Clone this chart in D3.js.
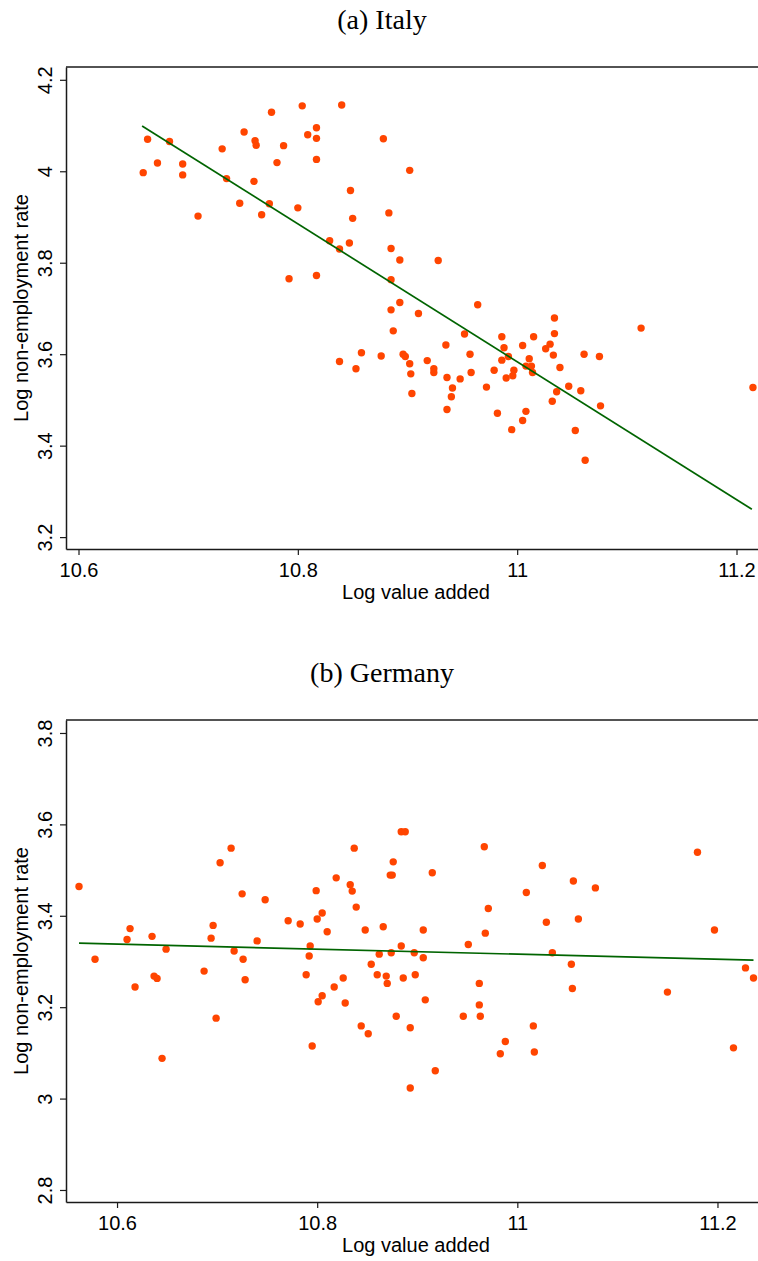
<!DOCTYPE html>
<html>
<head>
<meta charset="utf-8">
<script src="https://cdn.jsdelivr.net/npm/d3@7/dist/d3.min.js"></script>
<style>
  html, body { margin: 0; padding: 0; background: #fff; }
  svg { display: block; }
</style>
</head>
<body>
<svg id="chart" width="758" height="1261"></svg>
<script>
// ---------- DATA ----------
const italyTitle = "(a) Italy";
const germanyTitle = "(b) Germany";
const xAxisTitle = "Log value added";
const yAxisTitle = "Log non-employment rate";

const italyX = [10.663,10.683,10.672,10.695,10.659,10.695,10.709,10.731,10.735,10.751,
10.761,10.762,10.760,10.747,10.776,10.787,10.781,10.774,10.767,10.800,
10.804,10.809,10.817,10.817,10.817,10.840,10.829,10.838,10.792,10.817,
10.848,10.850,10.902,10.883,10.847,10.885,10.893,10.928,10.885,10.893,
10.885,10.910,10.887,10.964,10.952,10.935,10.957,10.838,10.858,10.853,
10.876,10.896,10.898,10.902,10.903,10.904,10.918,10.924,10.924,10.936,
10.941,10.940,10.948,10.958,10.972,10.979,10.936,10.982,10.995,10.986,
10.988,10.986,10.992,10.990,10.997,10.996,11.005,11.015,11.011,11.008,
11.013,11.014,11.008,11.005,11.034,11.034,11.030,11.026,11.033,11.039,
11.036,11.032,11.047,11.058,11.061,11.075,11.076,11.053,11.062,11.113,
11.215,10.878];
const italyY = [4.070,4.065,4.018,4.016,3.997,3.992,3.902,4.049,3.984,4.086,
4.067,4.057,3.978,3.930,4.129,4.056,4.019,3.929,3.905,3.920,
4.143,4.080,4.095,4.072,4.026,4.145,3.848,3.830,3.765,3.772,
3.958,3.897,4.002,3.909,3.843,3.831,3.806,3.805,3.763,3.713,
3.697,3.689,3.651,3.708,3.644,3.620,3.600,3.584,3.603,3.568,
3.596,3.600,3.595,3.579,3.557,3.514,3.586,3.568,3.560,3.549,
3.526,3.507,3.546,3.560,3.528,3.565,3.479,3.471,3.435,3.638,
3.614,3.587,3.595,3.548,3.565,3.553,3.619,3.638,3.590,3.574,
3.574,3.560,3.475,3.455,3.679,3.645,3.622,3.612,3.598,3.571,
3.518,3.497,3.530,3.520,3.600,3.595,3.487,3.433,3.368,3.657,
3.527,4.071];
const italyFitX = [10.658, 11.214];
const italyFitY = [4.099, 3.261];
const italyXTicks = [10.6, 10.8, 11, 11.2];
const italyYTicks = [3.2, 3.4, 3.6, 3.8, 4, 4.2];
const italyXDomain = [10.5886, 11.2196];
const italyYDomain = [3.174, 4.228];

const germanyX = [10.562,10.578,10.610,10.613,10.618,10.635,10.649,10.637,10.640,10.645,
10.687,10.694,10.696,10.703,10.714,10.699,10.717,10.726,10.728,10.725,
10.740,10.748,10.771,10.783,10.789,10.799,10.800,10.805,10.810,10.819,
10.833,10.835,10.837,10.839,10.793,10.792,10.805,10.801,10.795,10.817,
10.826,10.828,10.844,10.851,10.848,10.866,10.862,10.854,10.860,10.869,
10.870,10.874,10.884,10.886,10.897,10.906,10.898,10.906,10.879,10.893,
10.908,10.893,10.918,10.884,10.888,10.876,10.873,10.875,10.915,10.967,
11.009,10.971,10.968,10.951,10.962,10.962,10.963,10.946,10.988,10.983,
11.025,11.056,11.078,11.029,11.061,11.035,11.054,11.055,11.016,11.017,
11.150,11.180,11.197,11.228,11.236,11.216];
const germanyY = [3.464,3.305,3.348,3.372,3.244,3.355,3.327,3.268,3.263,3.088,
3.279,3.351,3.379,3.516,3.548,3.176,3.323,3.305,3.260,3.448,
3.345,3.435,3.389,3.382,3.271,3.455,3.393,3.406,3.365,3.483,
3.468,3.454,3.548,3.419,3.334,3.312,3.225,3.212,3.115,3.244,
3.264,3.209,3.159,3.142,3.369,3.376,3.316,3.294,3.271,3.268,
3.252,3.319,3.334,3.264,3.319,3.308,3.271,3.369,3.180,3.155,
3.216,3.023,3.061,3.584,3.584,3.518,3.489,3.489,3.494,3.551,
3.451,3.416,3.362,3.337,3.252,3.205,3.180,3.180,3.125,3.098,
3.510,3.476,3.461,3.386,3.393,3.319,3.294,3.241,3.159,3.102,
3.233,3.539,3.369,3.286,3.264,3.111];
const germanyFitX = [10.562, 11.236];
const germanyFitY = [3.340, 3.303];
const germanyXTicks = [10.6, 10.8, 11, 11.2];
const germanyYTicks = [2.8, 3, 3.2, 3.4, 3.6, 3.8];
const germanyXDomain = [10.549, 11.2405];
const germanyYDomain = [2.7737, 3.8284];

// ---------- DRAW ----------
const svg = d3.select("#chart");
const DOT = "#ff4500";
const FIT = "#006400";
const AXIS = "#1a1a1a";
const SANS = "'Liberation Sans', Arial, Helvetica, sans-serif";
const SERIF = "'Liberation Serif', 'Times New Roman', serif";

function panel(opt) {
  const g = svg.append("g").attr("transform", `translate(0,${opt.top})`);
  const left = 66, right = 758, plotTop = 67, plotBottom = 549;

  const x = d3.scaleLinear().domain(opt.xDomain).range([left, right]);
  const y = d3.scaleLinear().domain(opt.yDomain).range([plotBottom, plotTop]);

  // title
  g.append("text")
    .attr("x", 382).attr("y", 29)
    .attr("text-anchor", "middle")
    .style("font-family", SERIF).style("font-size", "28px").style("fill", "#000")
    .text(opt.title);

  // points
  const pts = opt.xs.map((v, i) => ({ x: v, y: opt.ys[i] }));
  g.append("g").selectAll("circle").data(pts).join("circle")
    .attr("cx", d => x(d.x)).attr("cy", d => y(d.y))
    .attr("r", 3.7).attr("fill", DOT);

  // fitted line
  const fit = opt.fitX.map((v, i) => [v, opt.fitY[i]]);
  g.append("path")
    .datum(fit)
    .attr("d", d3.line().x(d => x(d[0])).y(d => y(d[1])))
    .attr("fill", "none").attr("stroke", FIT).attr("stroke-width", 1.7);

  // top border
  g.append("line")
    .attr("x1", left).attr("x2", right + 2)
    .attr("y1", plotTop).attr("y2", plotTop)
    .attr("stroke", AXIS).attr("stroke-width", 1.5);

  // x axis
  const xa = g.append("g").attr("transform", `translate(0,${plotBottom})`)
    .call(d3.axisBottom(x).tickValues(opt.xTicks).tickFormat(d => String(d))
      .tickSize(6).tickSizeOuter(0));
  xa.select(".domain").attr("stroke", AXIS).attr("stroke-width", 1.5);
  xa.selectAll(".tick line").attr("stroke", AXIS).attr("stroke-width", 1.2);
  xa.selectAll(".tick text")
    .attr("y", 28).attr("dy", 0)
    .style("font-family", SANS).style("font-size", "20px").style("fill", "#000");

  // y axis
  const ya = g.append("g").attr("transform", `translate(${left},0)`)
    .call(d3.axisLeft(y).tickValues(opt.yTicks).tickFormat(d => String(d))
      .tickSize(6).tickSizeOuter(0));
  ya.select(".domain").attr("stroke", AXIS).attr("stroke-width", 1.5);
  ya.selectAll(".tick line").attr("stroke", AXIS).attr("stroke-width", 1.2);
  ya.selectAll(".tick text")
    .attr("x", 0).attr("y", -14).attr("dy", 0)
    .attr("text-anchor", "middle")
    .attr("transform", "rotate(-90)")
    .style("font-family", SANS).style("font-size", "20px").style("fill", "#000");

  // axis titles
  g.append("text")
    .attr("x", 416).attr("y", 599)
    .attr("text-anchor", "middle")
    .style("font-family", SANS).style("font-size", "20px").style("fill", "#000")
    .text(xAxisTitle);
  g.append("text")
    .attr("transform", `translate(28,${(plotTop + plotBottom) / 2}) rotate(-90)`)
    .attr("text-anchor", "middle")
    .style("font-family", SANS).style("font-size", "20px").style("fill", "#000")
    .text(yAxisTitle);
}

panel({ top: 0, title: italyTitle, xs: italyX, ys: italyY, fitX: italyFitX, fitY: italyFitY,
  xTicks: italyXTicks, yTicks: italyYTicks, xDomain: italyXDomain, yDomain: italyYDomain });
panel({ top: 653, title: germanyTitle, xs: germanyX, ys: germanyY, fitX: germanyFitX, fitY: germanyFitY,
  xTicks: germanyXTicks, yTicks: germanyYTicks, xDomain: germanyXDomain, yDomain: germanyYDomain });
</script>
</body>
</html>
